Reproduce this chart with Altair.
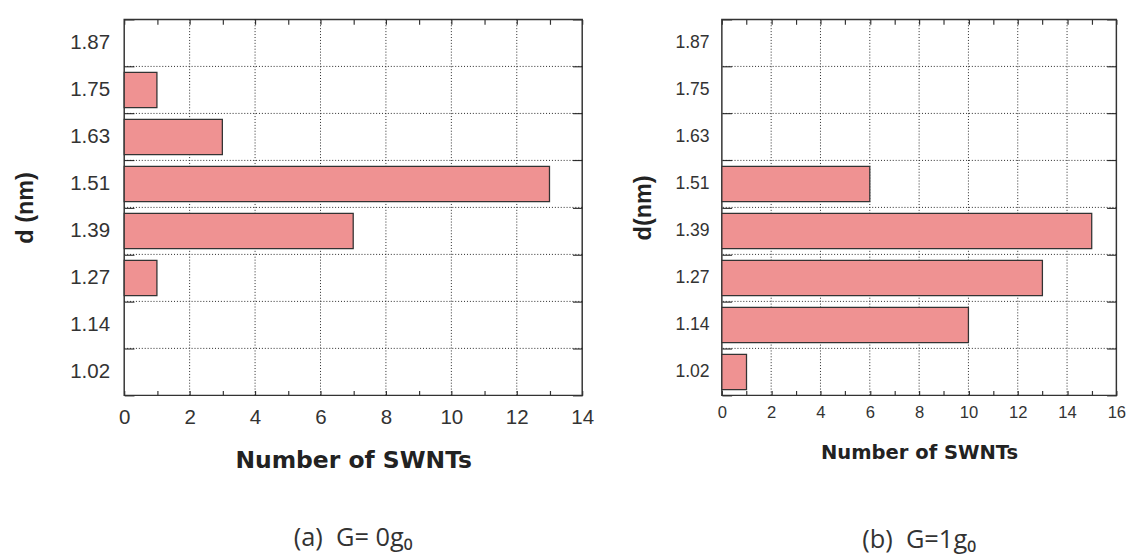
import json
import altair as alt
import pandas as pd

# ---- data ----
categories = ["1.02", "1.14", "1.27", "1.39", "1.51", "1.63", "1.75", "1.87"]  # bottom -> top
counts_a = [0, 0, 1, 7, 13, 3, 1, 0]     # (a) G = 0 g0
counts_b = [1, 10, 13, 15, 6, 0, 0, 0]   # (b) G = 1 g0
x_max_a = 14
x_max_b = 16
x_title = "Number of SWNTs"
y_title_a = "d (nm)"
y_title_b = "d(nm)"
caption_a = "(a)\u00a0\u00a0G=\u00a00g\u2080"
caption_b = "(b)\u00a0\u00a0G=1g\u2080"

BAR_FILL = "#ef9292"
INK = "#333333"
GRID = "#222222"


def panel(counts, xmax, width, height, ytitle, caption,
          ylab_size, xlab_size, ylab_pad, ytitle_pad, ytitle_size,
          xlab_pad, xtitle_size, xtitle_pad, cap_offset):
    n = len(categories)
    df = pd.DataFrame({"d": categories, "count": counts, "pos": list(range(n))})
    cats_js = json.dumps(categories)
    x_vals = list(range(0, xmax + 1))
    y_vals = [i / 2 for i in range(0, 2 * n + 1)]
    xscale = alt.Scale(domain=[0, xmax], nice=False, zero=True)
    yscale = alt.Scale(domain=[0, n], nice=False, zero=True)

    grid_x = pd.DataFrame({"v": list(range(2, xmax, 2))})
    grid_y = pd.DataFrame({"v": list(range(1, n))})

    base = alt.Chart(df).transform_calculate(
        x0="0", y0="datum.pos + 0.125", y1="datum.pos + 0.875"
    )

    x_bottom = alt.Axis(
        orient="bottom", values=x_vals, offset=-5, tickSize=5, tickColor=INK,
        tickWidth=1.2, domain=False, grid=False,
        labelExpr="datum.value % 2 == 0 ? datum.label : ''",
        labelFont="Liberation Sans",
        labelFontSize={"condition": {"test": "datum.value % 2 != 0", "value": 0}, "value": xlab_size},
        labelColor=INK,
        labelPadding=xlab_pad, labelFlush=False, labelOverlap=False,
        title=x_title, titleFont="DejaVu Sans", titleFontWeight="bold",
        titleFontSize=xtitle_size, titleColor="#222222", titlePadding=xtitle_pad,
    )
    y_left = alt.Axis(
        orient="left", values=y_vals, offset=-10, tickSize=10, tickColor=INK,
        tickWidth=1.2,
        tickOpacity={"condition": {"test": "datum.value % 1 != 0", "value": 0}, "value": 1},
        domain=False, grid=False,
        labelExpr=f"datum.value % 1 != 0 ? {cats_js}[floor(datum.value)] : ''",
        labelFont="Liberation Sans",
        labelFontSize={"condition": {"test": "datum.value % 1 == 0", "value": 0}, "value": ylab_size},
        labelColor=INK,
        labelPadding=ylab_pad, labelFlush=False, labelOverlap=False,
        title=ytitle, titleFont="Liberation Sans", titleFontWeight="bold",
        titleFontSize=ytitle_size, titleColor="#222222", titlePadding=ytitle_pad,
    )
    x_top = alt.Axis(
        orient="top", values=x_vals, offset=-5, tickSize=5, tickColor=INK,
        tickWidth=1.2, domain=False, grid=False, labels=False, title=None,
        minExtent=0,
    )
    y_right = alt.Axis(
        orient="right", values=list(range(0, n + 1)), offset=-10, tickSize=10,
        tickColor=INK, tickWidth=1.2, domain=False, grid=False, labels=False,
        title=None, minExtent=0,
    )

    vgrid = alt.Chart(grid_x).mark_rule(
        color=GRID, strokeDash=[1, 2], strokeWidth=1
    ).encode(x=alt.X("v:Q", scale=xscale, axis=None))
    hgrid = alt.Chart(grid_y).mark_rule(
        color=GRID, strokeDash=[1, 2], strokeWidth=1
    ).encode(y=alt.Y("v:Q", scale=yscale, axis=None))

    bars = base.transform_filter("datum.count > 0").mark_rect(
        fill=BAR_FILL, stroke=INK, strokeWidth=1.3
    ).encode(
        x=alt.X("x0:Q", scale=xscale, axis=x_bottom),
        x2="count:Q",
        y=alt.Y("y0:Q", scale=yscale, axis=y_left),
        y2="y1:Q",
    )
    mirror = base.mark_rect(opacity=0).encode(
        x=alt.X("x0:Q", scale=xscale, axis=x_top),
        x2="count:Q",
        y=alt.Y("y0:Q", scale=yscale, axis=y_right),
        y2="y1:Q",
    )
    return alt.layer(vgrid, hgrid, bars, mirror).resolve_axis(
        x="independent", y="independent"
    ).properties(
        width=width, height=height,
        title=alt.TitleParams(
            caption, orient="bottom", anchor="middle", font="Open Sans",
            fontSize=26, fontWeight="normal", color="#333333", offset=cap_offset,
        ),
    )


left = panel(counts_a, x_max_a, 469, 385, y_title_a, caption_a,
             ylab_size=21, xlab_size=21, ylab_pad=15, ytitle_pad=33, ytitle_size=24,
             xlab_pad=12, xtitle_size=24, xtitle_pad=22, cap_offset=54)
right = panel(counts_b, x_max_b, 404, 385, y_title_b, caption_b,
              ylab_size=18, xlab_size=17, ylab_pad=13, ytitle_pad=20, ytitle_size=24,
              xlab_pad=10, xtitle_size=20, xtitle_pad=23, cap_offset=66)

chart = alt.hconcat(left, right, spacing=143, bounds="flush").properties(
    padding={"left": 5, "top": 3, "right": 5, "bottom": 5}
).configure_view(stroke=INK, strokeWidth=1.5)

chart.save("out.html", embed_options={"renderer": "svg", "actions": False})
